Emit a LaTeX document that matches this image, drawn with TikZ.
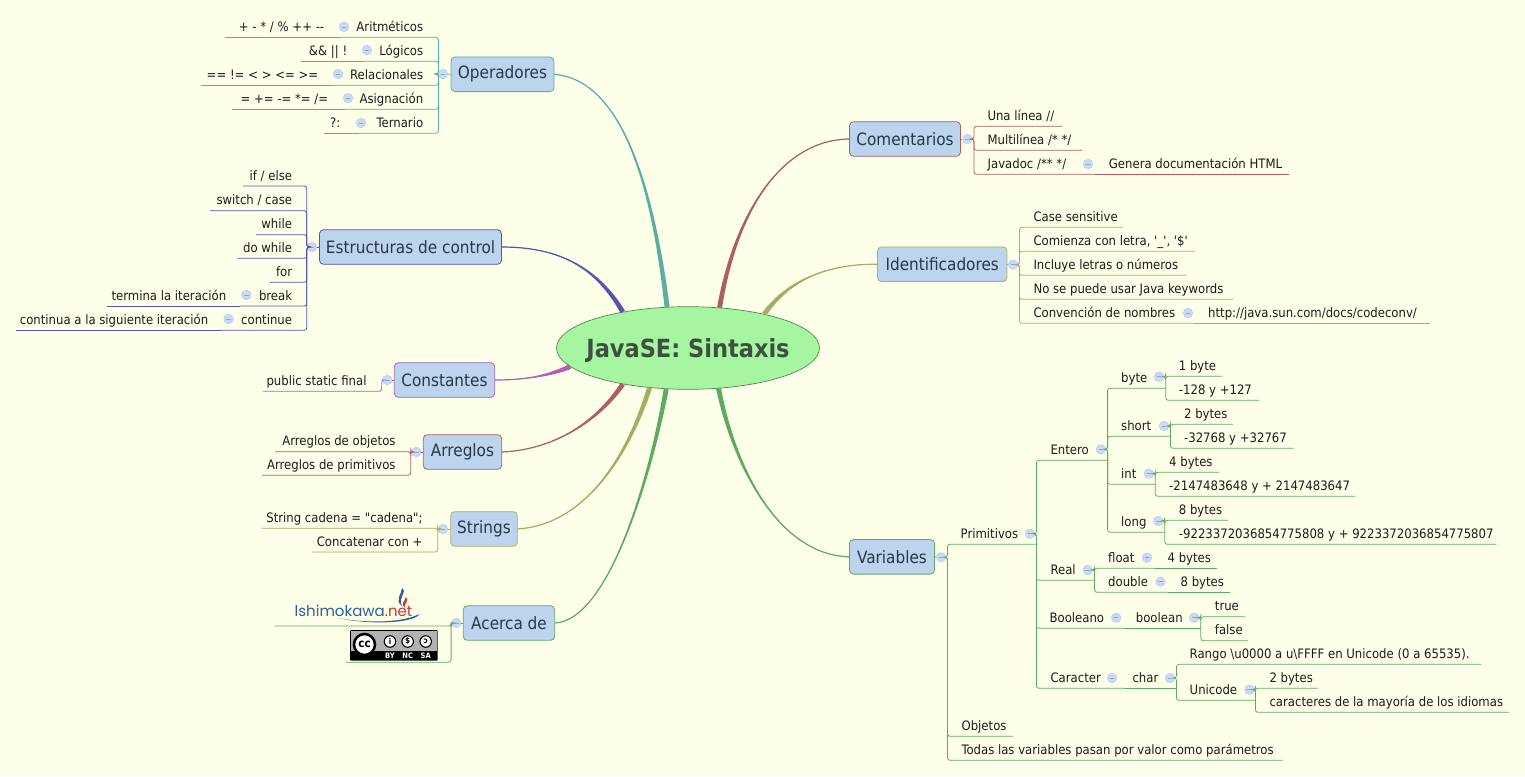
\documentclass[tikz,border=0pt]{standalone}
\usepackage{fontspec}
\usetikzlibrary{calc,shapes.geometric}
\newfontfamily\tfont{DejaVu Sans Condensed}
\newfontfamily\tbold{DejaVu Sans Condensed Bold}
\newfontfamily\logofont{Poppins}
\definecolor{bg}{HTML}{FEFFE8}
\definecolor{boxfill}{HTML}{BCD4EE}
\definecolor{rootfill}{HTML}{A6F5A0}
\definecolor{roottext}{HTML}{3D4F3F}
\definecolor{topictext}{HTML}{26384A}
\definecolor{leaftext}{HTML}{1C1C1C}
\definecolor{minusfill}{HTML}{C9DAF2}
\definecolor{minusedge}{HTML}{B4CAEA}
\definecolor{minusbar}{HTML}{8CA6D2}
\definecolor{teal}{HTML}{5BAFA0}
\definecolor{indigo}{HTML}{5555AE}
\definecolor{grape}{HTML}{AC62B4}
\definecolor{brick}{HTML}{AE5E62}
\definecolor{olive}{HTML}{A8AD66}
\definecolor{leafgreen}{HTML}{5EAA64}
\definecolor{logoblue}{HTML}{2B5F9E}
\definecolor{logored}{HTML}{C8363A}
\tikzset{
  topic/.style={draw=#1,fill=boxfill,rounded corners=4pt,line width=.8pt,minimum height=34.6pt,inner sep=0pt,font=\tfont\fontsize{17}{20}\selectfont,text=topictext},
  leaf/.style={inner xsep=0pt,inner ysep=2.8pt,text height=9pt,text depth=3pt,anchor=south west,font=\tfont\fontsize{13}{15}\selectfont,text=leaftext},
  minus/.style={circle,draw=minusedge,fill=minusfill,minimum size=9.5pt,inner sep=0pt,line width=.5pt,
    path picture={\draw[minusbar,line width=.6pt] ([xshift=-2.2pt]path picture bounding box.center)--([xshift=2.2pt]path picture bounding box.center);}},
  conn/.style={draw=#1,line width=.8pt,rounded corners=2.5pt},
  ccbig/.style={circle,draw=black,line width=2.5pt,fill=white,minimum size=21pt,inner sep=0pt,font=\tbold\fontsize{11.5}{11}\selectfont},
  ccsmall/.style={circle,draw=black,line width=1.1pt,fill=white,minimum size=11.5pt,inner sep=0pt,font=\tbold\fontsize{8}{8}\selectfont},
  cclabel/.style={inner sep=0pt,text=white,font=\tbold\fontsize{7.5}{8}\selectfont}
}
% name, x1, x2, underline y, l/r, pad, text
\newcommand{\lf}[7]{\pgfmathsetmacro\lfw{#3-#2}%
  \node[leaf] (#1) at (#2,#4) {\ifx l#5\makebox[\lfw pt][l]{\hspace*{#6pt}#7}\else\makebox[\lfw pt][r]{#7\hspace*{#6pt}}\fi};}
% colour, start, c1, c2, angle on root, half-width x, half-width y
\newcommand{\taper}[7]{%
  \draw[#1,line width=1.2pt] (#2) .. controls #3 and #4 .. (root.#5);
  \fill[#1] (#2) .. controls #3 and ($#4+0.5*(#6,#7)$) .. ($(root.#5)+(#6,#7)$) -- ($(root.#5)-(#6,#7)$) .. controls ($#4-0.5*(#6,#7)$) and #3 .. (#2) -- cycle;}
% right-side and left-side brackets
\newcommand{\brR}[3]{\draw[conn=#1] (#2.east) -| (#3.south west) -- (#3.south east);}
\newcommand{\brL}[3]{\draw[conn=#1] (#2.west) -| (#3.south east) -- (#3.south west);}
\begin{document}
\begin{tikzpicture}[x=1pt,y=-1pt]
\useasboundingbox (0,0) rectangle (1525,776);
\fill[bg] (0,0) rectangle (1525,776);

\node[ellipse,draw=black!40!green!35!gray,fill=rootfill,minimum width=263pt,minimum height=82.6pt,inner sep=0pt,line width=.7pt,font=\tbold\fontsize{25}{28}\selectfont,text=roottext] (root) at (688,348) {\raisebox{-9pt}[0pt][0pt]{\makebox[0pt]{JavaSE: Sintaxis}}};

% topics
\node[topic=teal,minimum width=103pt] (op) at (502.5,74.3) {Operadores};
\node[topic=indigo,minimum width=182pt] (es) at (410.5,247) {Estructuras de control};
\node[topic=grape,minimum width=100.4pt] (co) at (444.5,380) {Constantes};
\node[topic=brick,minimum width=78.4pt] (ar) at (462.5,452) {Arreglos};
\node[topic=olive,minimum width=66.6pt] (st) at (484,529) {Strings};
\node[topic=leafgreen,minimum width=91.4pt] (ac) at (509,623) {Acerca de};
\node[topic=brick,minimum width=111pt] (cm) at (905,139) {Comentarios};
\node[topic=olive,minimum width=129.4pt] (id) at (942.2,264.2) {Identificadores};
\node[topic=leafgreen,minimum width=85pt] (va) at (892,556.8) {Variables};

% tapered branches to the root
\taper{teal}{op.east}{(620,80)}{(652,180)}{117}{2.5}{-0.3}
\taper{indigo}{es.east}{(560,247)}{(597,268)}{151.4}{2.2}{-1.2}
\taper{grape}{co.east}{(525,380)}{(548,376)}{189}{-1}{-2.3}
\taper{brick}{ar.east}{(550,450)}{(595,425)}{209}{-2.1}{-1.35}
\taper{olive}{st.east}{(580,525)}{(625,465)}{226.4}{-2.4}{-0.74}
\taper{leafgreen}{ac.east}{(610,620)}{(652,470)}{242.4}{-2.46}{-0.43}
\taper{brick}{cm.west}{(780,140)}{(735,215)}{52}{2.47}{0.38}
\taper{olive}{id.west}{(830,264)}{(790,278)}{24}{2.1}{1.4}
\taper{leafgreen}{va.west}{(780,555)}{(735,470)}{307.3}{-2.46}{0.46}

% ---------- Operadores
\node[minus] (mop) at (443,74) {};
\draw[conn=teal] (op.west)--(mop.east);
\lf{ar1}{341}{438}{37.3}{r}{15}{Aritméticos}
\lf{lo1}{364}{438}{61.3}{r}{15}{Lógicos}
\lf{re1}{335}{438}{85.3}{r}{15}{Relacionales}
\lf{as1}{345}{438}{109.3}{r}{15}{Asignación}
\lf{te1}{358}{438}{133.3}{r}{15}{Ternario}
\lf{ar2}{225}{341}{37.3}{r}{17}{+ - * / \% ++ --}
\lf{lo2}{301}{364}{61.3}{r}{17}{\&\& || !}
\lf{re2}{201}{335}{85.3}{r}{17}{== != < > <= >=}
\lf{as2}{232}{345}{109.3}{r}{17}{= += -= *= /=}
\lf{te2}{324}{358}{133.3}{r}{18}{?:}
\node[minus] (mar) at (344,27) {};
\node[minus] (mlo) at (367,50) {};
\node[minus] (mre) at (338,74) {};
\node[minus] (mas) at (348,98) {};
\node[minus] (mte) at (361,123) {};
\foreach \c in {ar1,lo1,re1,as1,te1}{\brL{teal}{mop}{\c}}
\draw[conn=teal] (ar1.south west)--(ar2.south west);
\draw[conn=teal] (lo1.south west)--(lo2.south west);
\draw[conn=teal] (re1.south west)--(re2.south west);
\draw[conn=teal] (as1.south west)--(as2.south west);
\draw[conn=teal] (te1.south west)--(te2.south west);

% ---------- Estructuras
\node[minus] (mes) at (312,247) {};
\draw[conn=indigo] (es.west)--(mes.east);
\lf{e1}{243}{306.4}{186}{r}{14.5}{if / else}
\lf{e2}{210}{306.4}{210.7}{r}{14.5}{switch / case}
\lf{e3}{256}{306.4}{234.7}{r}{14.5}{while}
\lf{e4}{237.5}{306.4}{258.3}{r}{14.5}{do while}
\lf{e5}{270}{306.4}{282.3}{r}{14.5}{for}
\lf{e6}{240}{306.4}{306}{r}{14.5}{break}
\lf{e7}{222}{306.4}{330.3}{r}{14.5}{continue}
\lf{e6a}{107}{240}{306}{r}{14}{termina la iteración}
\lf{e7a}{16}{222}{330.3}{r}{14}{continua a la siguiente iteración}
\node[minus] (me6) at (246.4,295) {};
\node[minus] (me7) at (228.6,319) {};
\foreach \c in {e1,e2,e3,e4,e5,e6,e7}{\brL{indigo}{mes}{\c}}
\draw[conn=indigo] (e6.south west)--(e6a.south west);
\draw[conn=indigo] (e7.south west)--(e7a.south west);

% ---------- Constantes
\node[minus] (mco) at (387.3,380) {};
\draw[conn=grape] (co.west)--(mco.east);
\lf{c1}{263}{381.3}{391.3}{r}{15}{public static final}
\brL{grape}{mco}{c1}

% ---------- Arreglos
\node[minus] (mar2) at (416.3,452) {};
\draw[conn=brick] (ar.west)--(mar2.east);
\lf{a1}{275}{410.3}{451.7}{r}{15}{Arreglos de objetos}
\lf{a2}{262}{410.3}{475.3}{r}{15}{Arreglos de primitivos}
\brL{brick}{mar2}{a1}
\brL{brick}{mar2}{a2}

% ---------- Strings
\node[minus] (mst) at (443,529) {};
\draw[conn=olive] (st.west)--(mst.east);
\lf{s1}{261.7}{437.3}{528.3}{r}{15}{String cadena = "cadena";}
\lf{s2}{312}{437.3}{552}{r}{15}{Concatenar con +}
\brL{olive}{mst}{s1}
\brL{olive}{mst}{s2}

% ---------- Acerca de
\node[minus] (mac) at (456.3,623) {};
\draw[conn=leafgreen] (ac.west)--(mac.east);
\lf{ac1}{274.3}{450.7}{626}{r}{0}{}
\lf{ac2}{346}{450.7}{662.3}{r}{0}{}
\brL{leafgreen}{mac}{ac1}
\brL{leafgreen}{mac}{ac2}
% logo
\node[anchor=base west,inner sep=0pt,font=\logofont\fontsize{15}{18}\selectfont] (logo) at (294.5,616) {\textcolor{logoblue}{lshimokawa}\textcolor{logored}{.net}};
\fill[logoblue] (402,588) .. controls (408,592) and (397,598) .. (402,606) .. controls (394,600) and (402,594) .. (402,588);
\fill[logored] (406,597) .. controls (410,601) and (403,604) .. (405,608) .. controls (400,604) and (405,601) .. (406,597);
\fill[logoblue] (338,618) .. controls (370,624) and (405,622) .. (419,614) .. controls (417,622) and (375,626) .. (338,618);
% licence badge
\fill[black,rounded corners=1pt] (350,630) rectangle (437.7,660.7);
\fill[black!30] (350.8,630.8) rectangle (436.9,651);
\node[ccbig] (ccc) at (364.5,644.5) {cc};
\node[ccsmall] (ccb) at (390,641.5) {i};
\node[ccsmall] (ccn) at (407.7,641.5) {\$};
\node[ccsmall] (ccs) at (425.7,641.5) {ↄ};
\node[cclabel] (cct1) at (390,656) {BY};
\node[cclabel] (cct2) at (407.7,656) {NC};
\node[cclabel] (cct3) at (425.7,656) {SA};

% ---------- Comentarios
\node[minus] (mcm) at (967.4,139) {};
\draw[conn=brick] (cm.east)--(mcm.west);
\lf{k1}{974}{1062}{126.3}{l}{13.3}{Una línea //}
\lf{k2}{974}{1082}{150.3}{l}{13.3}{Multilínea /* */}
\lf{k3}{974}{1095}{174.3}{l}{13.5}{Javadoc /** */}
\lf{k3a}{1095}{1288.5}{174.3}{l}{13.7}{Genera documentación HTML}
\node[minus] (mk3) at (1088,164) {};
\foreach \c in {k1,k2,k3}{\brR{brick}{mcm}{\c}}
\draw[conn=brick] (k3.south east)--(k3a.south east);

% ---------- Identificadores
\node[minus] (mid) at (1013,264.6) {};
\draw[conn=olive] (id.east)--(mid.west);
\lf{i1}{1019.5}{1122.4}{227.3}{l}{13.8}{Case sensitive}
\lf{i2}{1019.5}{1194.4}{251.3}{l}{13.8}{Comienza con letra, '\_', '\$'}
\lf{i3}{1019.5}{1186}{275.3}{l}{13.8}{Incluye letras o números}
\lf{i4}{1019.5}{1232.6}{299.3}{l}{13.8}{No se puede usar Java keywords}
\lf{i5}{1019.5}{1195}{323.3}{l}{13.8}{Convención de nombres}
\lf{i5a}{1195}{1429.4}{323.3}{l}{13}{http://java.sun.com/docs/codeconv/}
\node[minus] (mi5) at (1188,313) {};
\foreach \c in {i1,i2,i3,i4,i5}{\brR{olive}{mid}{\c}}
\draw[conn=olive] (i5.south east)--(i5a.south east);

% ---------- Variables
\node[minus] (mva) at (941,557.3) {};
\draw[conn=leafgreen] (va.east)--(mva.west);
\lf{v1}{947.5}{1036.4}{544.3}{l}{13}{Primitivos}
\lf{v2}{947.5}{1012.6}{736.3}{l}{13.9}{Objetos}
\lf{v3}{947.5}{1282.3}{760.3}{l}{13.9}{Todas las variables pasan por valor como parámetros}
\foreach \c in {v1,v2,v3}{\brR{leafgreen}{mva}{\c}}
\node[minus] (mv1) at (1030,533.7) {};
% Primitivos children
\lf{en}{1036.4}{1107.6}{460.3}{l}{13.9}{Entero}
\lf{re}{1036.4}{1094.5}{580.3}{l}{13.9}{Real}
\lf{bo}{1036.4}{1125}{628.3}{l}{13}{Booleano}
\lf{ca}{1036.4}{1125}{688.3}{l}{13.9}{Caracter}
\foreach \c in {en,re,bo,ca}{\brR{leafgreen}{mv1}{\c}}
\node[minus] (men) at (1101,449.3) {};
\node[minus] (mre2) at (1087.6,570) {};
\node[minus] (mbo) at (1116.2,617.7) {};
\node[minus] (mca) at (1112,678) {};
% Entero children
\lf{by}{1107.6}{1165.7}{388.3}{l}{13.4}{byte}
\lf{sh}{1107.6}{1170.4}{436.3}{l}{13.4}{short}
\lf{in}{1107.6}{1155.3}{484.3}{l}{13.4}{int}
\lf{lg}{1107.6}{1164.8}{532.3}{l}{13.4}{long}
\foreach \c in {by,sh,in,lg}{\brR{leafgreen}{men}{\c}}
\node[minus] (mby) at (1159,376.7) {};
\node[minus] (msh) at (1164,426) {};
\node[minus] (min) at (1148.8,473.7) {};
\node[minus] (mlg) at (1158.3,521) {};
\lf{by1}{1165.7}{1221.6}{376.3}{l}{13}{1 byte}
\lf{by2}{1165.7}{1258.5}{400.3}{l}{13}{-128 y +127}
\brR{leafgreen}{mby}{by1}\brR{leafgreen}{mby}{by2}
\lf{sh1}{1170.4}{1232.5}{424.3}{l}{13.5}{2 bytes}
\lf{sh2}{1170.4}{1293.2}{448.3}{l}{13.5}{-32768 y +32767}
\brR{leafgreen}{msh}{sh1}\brR{leafgreen}{msh}{sh2}
\lf{in1}{1155.3}{1218.6}{472.3}{l}{13.7}{4 bytes}
\lf{in2}{1155.3}{1354.7}{496.3}{l}{13.7}{-2147483648 y + 2147483647}
\brR{leafgreen}{min}{in1}\brR{leafgreen}{min}{in2}
\lf{lg1}{1164.8}{1227.7}{520.3}{l}{13.9}{8 bytes}
\lf{lg2}{1164.8}{1496}{544.3}{l}{13.9}{-9223372036854775808 y + 9223372036854775807}
\brR{leafgreen}{mlg}{lg1}\brR{leafgreen}{mlg}{lg2}
% Real children
\lf{fl}{1094.5}{1155}{568.3}{l}{13.5}{float}
\lf{fl1}{1155}{1216.4}{568.3}{l}{12.4}{4 bytes}
\lf{db}{1094.5}{1168}{592.3}{l}{13.5}{double}
\lf{db1}{1168}{1229.4}{592.3}{l}{12.4}{8 bytes}
\brR{leafgreen}{mre2}{fl}\brR{leafgreen}{mre2}{db}
\draw[conn=leafgreen] (fl.south east)--(fl1.south east);
\draw[conn=leafgreen] (db.south east)--(db1.south east);
\node[minus] (mfl) at (1147,557.7) {};
\node[minus] (mdb) at (1160.5,581.7) {};
% boolean
\lf{bl}{1125}{1200.8}{628.3}{l}{10.7}{boolean}
\draw[conn=leafgreen] (bo.south east)--(bl.south east);
\node[minus] (mbl) at (1194.3,617.7) {};
\lf{t1}{1200.8}{1244.6}{616.7}{l}{13.9}{true}
\lf{t2}{1200.8}{1247.6}{640.7}{l}{13.9}{false}
\brR{leafgreen}{mbl}{t1}\brR{leafgreen}{mbl}{t2}
% char
\lf{ch}{1125}{1176.5}{688.3}{l}{7.3}{char}
\draw[conn=leafgreen] (ca.south east)--(ch.south east);
\node[minus] (mch) at (1170,678) {};
\lf{r1}{1176.5}{1481}{664.3}{l}{13}{Rango \textbackslash u0000 a u\textbackslash FFFF en Unicode (0 a 65535).}
\lf{r2}{1176.5}{1255.4}{700.3}{l}{13}{Unicode}
\brR{leafgreen}{mch}{r1}\brR{leafgreen}{mch}{r2}
\node[minus] (mr2) at (1249.4,689.7) {};
\lf{u1}{1255.4}{1317.5}{688.3}{l}{13.9}{2 bytes}
\lf{u2}{1255.4}{1509}{712.3}{l}{13.9}{caracteres de la mayoría de los idiomas}
\brR{leafgreen}{mr2}{u1}\brR{leafgreen}{mr2}{u2}
\end{tikzpicture}
\end{document}
